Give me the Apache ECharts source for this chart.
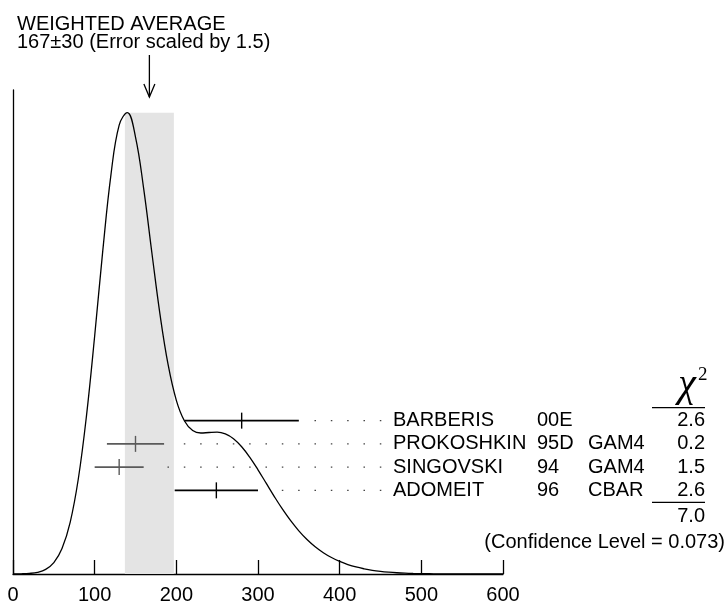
<!DOCTYPE html>
<html>
<head>
<meta charset="utf-8">
<script src="https://cdn.jsdelivr.net/npm/echarts@6/dist/echarts.min.js"></script>
<style>
html,body{margin:0;padding:0;background:#fff;}
#chart{width:727px;height:605px;}
</style>
</head>
<body>
<div id="chart"></div>
<script>
// ---- data ----
const names = ['BARBERIS', 'PROKOSHKIN', 'SINGOVSKI', 'ADOMEIT'];
const years = ['00E', '95D', '94', '96'];
const techs = ['', 'GAM4', 'GAM4', 'CBAR'];
const values = [280, 150, 130, 249];
const errors = [70, 35, 30, 51];
const chi2 = ['2.6', '0.2', '1.5', '2.6'];
const chi2Total = '7.0';
const confidenceLevel = '0.073';
const weightedAvg = 167;
const weightedErr = 30;
const errScale = '1.5';
const xTicks = [0, 100, 200, 300, 400, 500, 600];
// ideogram curve (relative height)
const curveX = [0,10,20,30,40,50,60,70,80,90,100,110,120,130,140,150,160,170,180,190,200,
  210,220,230,240,250,260,270,280,290,300,310,320,330,340,350,360,370,380,390,400,
  410,420,430,440,450,460,470,480,490,500,510,520,530,540,550,560,570,580,590,600];
const curveY = [0.01,0.04,0.13,0.37,0.99,2.45,5.50,11.19,20.61,34.28,51.51,70.08,86.49,97.15,99.84,94.56,83.40,69.58,56.18,45.23,37.58,
  33.10,31.04,30.51,30.62,30.70,30.32,29.27,27.54,25.24,22.54,19.65,16.76,14.02,11.53,9.34,7.47,5.90,4.61,3.56,2.72,
  2.05,1.52,1.12,0.80,0.57,0.40,0.27,0.18,0.12,0.08,0.05,0.03,0.02,0.01,0.01,0,0,0,0,0];

// ---- styles (kept apart from data) ----
const barColors = ['#000', '#5a5a5a', '#5a5a5a', '#000'];
const FONT = "'Liberation Sans', Arial, Helvetica, sans-serif";
const SERIF = "'Liberation Serif', 'Times New Roman', serif";
const leaderEnd = 451;      // x-value of right-most leader dot
const leaderStep = 20;      // x-value spacing between dots
const leaderGap = 11;       // min x-gap between bar end and first dot

const chart = echarts.init(document.getElementById('chart'), null, {renderer: 'canvas'});

const curveData = curveX.map((x, i) => [x, curveY[i]]);
const peak = Math.max(...curveY);
const barData = values.map((v, i) => [v - errors[i], v, v + errors[i], i]);

const option = {
  backgroundColor: '#fff',
  animation: false,
  title: {
    text: 'WEIGHTED AVERAGE\n' + weightedAvg + '\u00b1' + weightedErr + ' (Error scaled by ' + errScale + ')',
    left: 12, top: 10,
    textStyle: {fontFamily: FONT, fontSize: 20, fontWeight: 'normal', color: '#000', lineHeight: 18}
  },
  grid: {left: 13, right: 224, top: 90, bottom: 29, containLabel: false},
  xAxis: {
    type: 'value', min: xTicks[0], max: xTicks[xTicks.length - 1], interval: 100,
    axisLine: {show: true, lineStyle: {color: '#000', width: 1.3}},
    axisTick: {show: true, inside: true, length: 14, lineStyle: {color: '#000', width: 1.3}},
    axisLabel: {show: true, color: '#000', fontFamily: FONT, fontSize: 20, margin: 11},
    splitLine: {show: false}
  },
  yAxis: [
    {
      type: 'value', min: 0, max: 104.74,
      axisLine: {show: true, onZero: false, lineStyle: {color: '#000', width: 1.3}},
      axisTick: {show: false}, axisLabel: {show: false}, splitLine: {show: false}
    },
    {
      type: 'value', min: -14.23, max: 6.6, inverse: true, show: false,
      splitLine: {show: false}
    }
  ],
  series: [
    {
      type: 'line', name: 'ideogram', data: curveData, xAxisIndex: 0, yAxisIndex: 0,
      smooth: 0.4, showSymbol: false, symbol: 'none', z: 5,
      lineStyle: {color: '#000', width: 1.3},
      markArea: {
        silent: true,
        itemStyle: {color: '#e4e4e4'},
        data: [[{xAxis: weightedAvg - weightedErr, yAxis: 0}, {xAxis: weightedAvg + weightedErr, yAxis: peak}]]
      }
    },
    {
      type: 'custom', name: 'measurements', xAxisIndex: 0, yAxisIndex: 1, z: 6,
      clip: false,
      encode: {x: [0, 1, 2], y: 3},
      data: barData,
      renderItem: function (params, api) {
        const lo = api.value(0), mid = api.value(1), hi = api.value(2), row = api.value(3);
        const pLo = api.coord([lo, row]);
        const pMid = api.coord([mid, row]);
        const pHi = api.coord([hi, row]);
        const pDotR = api.coord([leaderEnd, row]);
        const pDotL = api.coord([hi + leaderGap, row]);
        const col = barColors[row];
        return {
          type: 'group',
          children: [
            {type: 'line', shape: {x1: pLo[0], y1: pLo[1], x2: pHi[0], y2: pHi[1]},
             style: {stroke: col, lineWidth: 1.6}},
            {type: 'line', shape: {x1: pMid[0], y1: pMid[1] - 8, x2: pMid[0], y2: pMid[1] + 8},
             style: {stroke: col, lineWidth: 1.4}},
            {type: 'line', shape: {x1: pDotR[0], y1: pDotR[1], x2: pDotL[0], y2: pDotL[1]},
             style: {stroke: '#444', lineWidth: 1.4,
                     lineDash: [1.5, (api.size([leaderStep, 0])[0]) - 1.5]}}
          ]
        };
      }
    }
  ]
};
chart.setOption(option);

// ---- table of measurements, placed on the row axis ----
const g = [];
const txt = (x, y, s, align) => ({
  type: 'text', x: x, y: y, silent: true,
  style: {text: s, fill: '#000', font: '20px ' + FONT, align: align || 'left', verticalAlign: 'middle'}
});
names.forEach((n, i) => {
  const y = chart.convertToPixel({yAxisIndex: 1}, i);
  g.push(txt(393, y, n));
  g.push(txt(537, y, years[i]));
  if (techs[i]) g.push(txt(588, y, techs[i]));
  g.push(txt(705, y, chi2[i], 'right'));
});
const yFirst = chart.convertToPixel({yAxisIndex: 1}, 0);
const yLast = chart.convertToPixel({yAxisIndex: 1}, names.length - 1);
const step = chart.convertToPixel({yAxisIndex: 1}, 1) - yFirst;
// chi^2 header
g.push({type: 'text', x: 687, y: yFirst - 35, silent: true,
  style: {text: '\u03c7', fill: '#000', font: 'italic 40px ' + SERIF, align: 'center', verticalAlign: 'middle'}});
g.push({type: 'text', x: 698, y: yFirst - 46, silent: true,
  style: {text: '2', fill: '#000', font: '19px ' + SERIF, align: 'left', verticalAlign: 'middle'}});
g.push({type: 'line', silent: true, shape: {x1: 652, y1: yFirst - 13, x2: 705, y2: yFirst - 13}, style: {stroke: '#000', lineWidth: 1.3}});
g.push({type: 'line', silent: true, shape: {x1: 652, y1: yLast + 12, x2: 705, y2: yLast + 12}, style: {stroke: '#000', lineWidth: 1.3}});
g.push(txt(705, yLast + step + 3, chi2Total, 'right'));
g.push(txt(725, yLast + 2 * step + 6, '(Confidence Level = ' + confidenceLevel + ')', 'right'));
// arrow pointing at weighted average
const ax = chart.convertToPixel({xAxisIndex: 0}, weightedAvg);
g.push({type: 'line', silent: true, shape: {x1: ax, y1: 55, x2: ax, y2: 97}, style: {stroke: '#000', lineWidth: 1.3}});
g.push({type: 'polyline', silent: true, shape: {points: [[ax - 5.5, 84], [ax, 97], [ax + 5.5, 84]]}, style: {stroke: '#000', lineWidth: 1.3, fill: null}});
chart.setOption({graphic: g});
</script>
</body>
</html>
